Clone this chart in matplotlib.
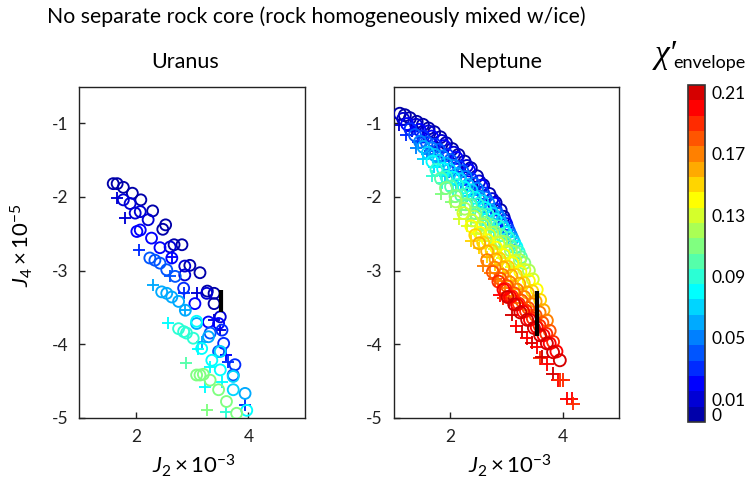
import numpy as np
import matplotlib
matplotlib.use('Agg')
import matplotlib.pyplot as plt
from matplotlib.colors import ListedColormap, BoundaryNorm
from matplotlib.cm import ScalarMappable

plt.rcParams['font.family'] = ['Lato', 'DejaVu Sans']
plt.rcParams['mathtext.fontset'] = 'custom'
plt.rcParams['mathtext.rm'] = 'Lato'
plt.rcParams['mathtext.it'] = 'Lato:italic'
plt.rcParams['axes.unicode_minus'] = False

# ---------------- data ----------------
title = "No separate rock core (rock homogeneously mixed w/ice)"
panel_names = ["Uranus", "Neptune"]
x_ticks = [2, 4]
y_ticks = [-5, -4, -3, -2, -1]
cbar_ticks = [0, 0.01, 0.05, 0.09, 0.13, 0.17, 0.21]
cbar_ticklabels = ["0", "0.01", "0.05", "0.09", "0.13", "0.17", "0.21"]

# observed values (black bars)
ura_obs_j2 = 3.52
ura_obs_j4 = [-3.27, -3.57]
nep_obs_j2 = 3.54
nep_obs_j4 = [-3.28, -3.89]

# Uranus circles, grouped by chi'
ura_circ_chi = [0.00, 0.01, 0.02, 0.03, 0.04, 0.06, 0.07, 0.08, 0.09, 0.11]
ura_circ_j2 = [
    [1.60, 1.67, 1.78, 1.94, 2.09, 2.30, 2.53, 2.48, 2.68, 2.82, 2.96, 3.14, 3.27, 3.39, 3.39],
    [1.78, 1.90, 1.99, 2.08, 2.22, 2.61, 2.87, 2.87, 3.26, 3.50],
    [2.02, 2.08, 2.28, 2.43, 2.64, 3.05, 3.29, 3.47],
    [2.85, 3.53, 3.56, 3.76],
    [2.25, 2.34, 2.43, 2.55, 2.70, 3.32, 3.47, 3.73],
    [2.46, 2.55, 2.64, 2.76, 2.88, 3.08, 3.29, 3.94],
    [3.50, 3.73, 3.73],
    [3.08, 3.17, 3.35, 3.50, 3.97],
    [2.76, 2.85, 2.90, 3.02],
    [3.08, 3.14, 3.20, 3.32, 3.47, 3.61, 3.79],
]
ura_circ_j4 = [
    [-1.82, -1.82, -1.87, -1.95, -2.04, -2.19, -2.38, -2.44, -2.65, -2.65, -2.93, -3.03, -3.28, -3.31, -3.45],
    [-2.04, -2.09, -2.22, -2.20, -2.31, -2.68, -2.94, -3.06, -3.31, -3.63],
    [-2.47, -2.45, -2.56, -2.69, -2.83, -3.45, -3.70, -3.72],
    [-3.24, -3.81, -3.99, -4.28],
    [-2.83, -2.86, -2.90, -2.99, -3.08, -3.85, -4.10, -4.42],
    [-3.29, -3.31, -3.36, -3.42, -3.54, -3.72, -3.90, -4.67],
    [-4.10, -4.44, -4.62],
    [-3.69, -4.06, -4.22, -4.35, -4.90],
    [-3.79, -3.83, -3.85, -3.92],
    [-4.42, -4.42, -4.41, -4.49, -4.62, -4.78, -4.94],
]

# Uranus plus markers, grouped by chi'
ura_plus_chi = [0.01, 0.02, 0.03, 0.04, 0.06, 0.08, 0.09, 0.10, 0.11]
ura_plus_j2 = [
    [1.66, 1.81, 3.08, 3.38, 3.50],
    [2.64, 3.61],
    [2.05, 2.85, 3.64, 3.94],
    [2.61],
    [2.31, 2.87, 3.17],
    [2.58, 3.11, 3.32, 3.23, 3.53],
    [3.60],
    [2.90],
    [3.26],
]
ura_plus_j4 = [
    [-2.02, -2.29, -3.31, -3.67, -3.81],
    [-2.81, -4.15],
    [-2.72, -3.31, -4.24, -4.83],
    [-3.08],
    [-3.20, -3.54, -3.97],
    [-3.72, -4.06, -4.31, -4.58, -4.51],
    [-4.92],
    [-4.26],
    [-4.90],
]

# Neptune circles, one row per chi'
nep_circ_chi = [0.00, 0.01, 0.02, 0.03, 0.04, 0.05, 0.06, 0.07, 0.08, 0.09, 0.10,
                0.11, 0.12, 0.13, 0.14, 0.15, 0.16, 0.17, 0.18, 0.19, 0.20, 0.21]
nep_circ_j2 = [
    [1.11, 1.20, 1.29, 1.41, 1.52, 1.62, 1.72, 1.83, 1.93, 2.04, 2.15, 2.26, 2.37, 2.48, 2.59, 2.70, 2.81, 2.90, 2.95],
    [1.17, 1.40, 1.62, 1.85, 2.07, 2.30, 2.52, 2.75, 2.97],
    [1.24, 1.46, 1.68, 1.90, 2.12, 2.34, 2.56, 2.78, 3.00],
    [1.30, 1.52, 1.73, 1.95, 2.16, 2.38, 2.59, 2.81, 3.02],
    [1.38, 1.59, 1.80, 2.01, 2.22, 2.42, 2.63, 2.84, 3.05],
    [1.47, 1.67, 1.87, 2.07, 2.28, 2.48, 2.68, 2.88, 3.08],
    [1.53, 1.73, 1.93, 2.12, 2.32, 2.52, 2.72, 2.91, 3.11],
    [1.61, 1.80, 1.99, 2.18, 2.38, 2.57, 2.76, 2.95, 3.14],
    [1.69, 1.88, 2.06, 2.25, 2.44, 2.62, 2.81, 2.99, 3.18],
    [1.76, 1.94, 2.13, 2.31, 2.49, 2.67, 2.86, 3.04, 3.22],
    [1.84, 2.02, 2.20, 2.37, 2.55, 2.73, 2.91, 3.08, 3.26],
    [1.93, 2.10, 2.28, 2.45, 2.63, 2.80, 2.97, 3.15, 3.32],
    [2.10, 2.26, 2.43, 2.59, 2.75, 2.91, 3.08, 3.24, 3.40],
    [2.24, 2.39, 2.55, 2.70, 2.86, 3.01, 3.16, 3.32, 3.47],
    [2.38, 2.53, 2.67, 2.82, 2.96, 3.11, 3.25, 3.40, 3.54],
    [2.45, 2.59, 2.74, 2.88, 3.03, 3.17, 3.31, 3.46, 3.60],
    [2.52, 2.66, 2.81, 2.95, 3.09, 3.23, 3.38, 3.52, 3.66],
    [2.66, 2.79, 2.93, 3.06, 3.19, 3.32, 3.46, 3.59, 3.72],
    [2.76, 2.89, 3.01, 3.14, 3.27, 3.39, 3.52, 3.64, 3.77],
    [2.86, 2.98, 3.10, 3.22, 3.35, 3.47, 3.59, 3.71, 3.83],
    [2.95, 3.07, 3.19, 3.30, 3.42, 3.54, 3.66, 3.77, 3.89],
    [3.02, 3.14, 3.25, 3.37, 3.49, 3.60, 3.72, 3.83, 3.95],
]
nep_circ_j4 = [
    [-0.87, -0.89, -0.93, -0.98, -1.02, -1.07, -1.12, -1.19, -1.27, -1.35, -1.43, -1.52, -1.61, -1.72, -1.84, -1.96, -2.08, -2.18, -2.27],
    [-0.94, -1.02, -1.11, -1.24, -1.40, -1.58, -1.79, -2.03, -2.32],
    [-1.01, -1.09, -1.18, -1.31, -1.47, -1.64, -1.85, -2.09, -2.37],
    [-1.08, -1.18, -1.29, -1.43, -1.59, -1.76, -1.95, -2.17, -2.42],
    [-1.16, -1.26, -1.36, -1.50, -1.65, -1.82, -2.01, -2.23, -2.47],
    [-1.25, -1.34, -1.45, -1.58, -1.73, -1.89, -2.08, -2.28, -2.52],
    [-1.32, -1.43, -1.55, -1.69, -1.84, -2.00, -2.18, -2.36, -2.57],
    [-1.40, -1.51, -1.63, -1.76, -1.91, -2.06, -2.23, -2.42, -2.62],
    [-1.52, -1.62, -1.74, -1.87, -2.01, -2.15, -2.31, -2.49, -2.68],
    [-1.63, -1.73, -1.84, -1.96, -2.10, -2.24, -2.40, -2.56, -2.75],
    [-1.75, -1.86, -1.98, -2.11, -2.24, -2.38, -2.52, -2.67, -2.82],
    [-1.88, -1.99, -2.10, -2.22, -2.35, -2.48, -2.61, -2.75, -2.90],
    [-2.06, -2.16, -2.27, -2.38, -2.49, -2.61, -2.73, -2.86, -3.00],
    [-2.22, -2.32, -2.42, -2.52, -2.63, -2.75, -2.87, -2.99, -3.12],
    [-2.40, -2.49, -2.59, -2.69, -2.79, -2.90, -3.02, -3.14, -3.26],
    [-2.52, -2.62, -2.73, -2.84, -2.95, -3.06, -3.17, -3.28, -3.40],
    [-2.63, -2.74, -2.85, -2.96, -3.07, -3.18, -3.30, -3.42, -3.54],
    [-2.86, -2.96, -3.06, -3.16, -3.26, -3.36, -3.46, -3.57, -3.68],
    [-3.02, -3.11, -3.21, -3.31, -3.41, -3.51, -3.61, -3.71, -3.82],
    [-3.15, -3.25, -3.35, -3.45, -3.55, -3.65, -3.75, -3.86, -3.97],
    [-3.26, -3.36, -3.46, -3.56, -3.67, -3.77, -3.88, -3.99, -4.10],
    [-3.36, -3.46, -3.57, -3.67, -3.78, -3.88, -3.99, -4.11, -4.22],
]

# Neptune plus markers, rows per chi'
nep_plus_chi = [0.01, 0.03, 0.05, 0.07, 0.09, 0.11, 0.13, 0.15, 0.17]
nep_plus_j2 = [
    [1.09, 1.32, 1.54, 1.77, 1.99, 2.22, 2.44],
    [1.22, 1.44, 1.65, 1.87, 2.08, 2.30, 2.51],
    [1.39, 1.59, 1.79, 1.99, 2.20, 2.40, 2.60],
    [1.53, 1.72, 1.91, 2.10, 2.30, 2.49, 2.68],
    [1.68, 1.86, 2.05, 2.23, 2.41, 2.59, 2.78],
    [1.85, 2.02, 2.20, 2.37, 2.55, 2.72, 2.89],
    [2.16, 2.31, 2.47, 2.62, 2.78, 2.93, 3.08],
    [2.37, 2.51, 2.66, 2.80, 2.95, 3.09, 3.23],
    [2.58, 2.71, 2.85, 2.98, 3.11, 3.24, 3.38],
]
nep_plus_j4 = [
    [-1.02, -1.10, -1.19, -1.32, -1.48, -1.66, -1.87],
    [-1.16, -1.26, -1.37, -1.51, -1.67, -1.84, -2.03],
    [-1.33, -1.42, -1.53, -1.66, -1.81, -1.97, -2.16],
    [-1.48, -1.59, -1.71, -1.84, -1.99, -2.14, -2.31],
    [-1.71, -1.81, -1.92, -2.04, -2.18, -2.32, -2.48],
    [-1.96, -2.07, -2.18, -2.30, -2.43, -2.56, -2.69],
    [-2.30, -2.40, -2.50, -2.60, -2.71, -2.83, -2.95],
    [-2.60, -2.70, -2.81, -2.92, -3.03, -3.14, -3.25],
    [-2.94, -3.04, -3.14, -3.24, -3.34, -3.44, -3.54],
]

# Neptune red plus markers (lower tail), individual chi'
nep_red_plus_j2 = [2.80, 2.89, 2.95, 3.04, 3.10, 3.18, 3.27, 3.36, 3.45, 3.54,
                   3.60, 3.63, 3.72, 3.83, 3.92, 3.95, 4.01, 4.07, 4.16, 4.19]
nep_red_plus_j4 = [-3.12, -3.33, -3.38, -3.42, -3.60, -3.76, -3.83, -3.92, -3.98, -4.04,
                   -4.19, -4.17, -4.27, -4.40, -4.49, -4.49, -4.49, -4.74, -4.74, -4.81]
nep_red_plus_chi = [0.18, 0.20, 0.19, 0.21, 0.21, 0.20, 0.21, 0.20, 0.21, 0.20,
                    0.19, 0.21, 0.20, 0.21, 0.20, 0.19, 0.19, 0.20, 0.20, 0.19]


# ---------------- colour map (MATLAB-style jet with 22 levels) ----------------
def matlab_jet(m):
    n = int(np.ceil(m / 4))
    u = np.concatenate([np.arange(1, n + 1) / n, np.ones(n - 1), np.arange(n, 0, -1) / n])
    g = int(np.ceil(n / 2)) - (1 if m % 4 == 1 else 0) + np.arange(1, len(u) + 1)
    r = g + n
    b = g - n
    g = g[g <= m]
    r = r[r <= m]
    b = b[b >= 1]
    J = np.zeros((m, 3))
    J[r - 1, 0] = u[:len(r)]
    J[g - 1, 1] = u[:len(g)]
    J[b - 1, 2] = u[len(u) - len(b):]
    return J


NLEV = 22
cmap = ListedColormap(matlab_jet(NLEV))
norm = BoundaryNorm(np.linspace(-0.005, 0.215, NLEV + 1), NLEV)

# ---------------- figure ----------------
W, H = 751, 491
fig = plt.figure(figsize=(W / 100, H / 100), dpi=100)


def box(l, t, r, b):
    return [l / W, 1 - b / H, (r - l) / W, (b - t) / H]


ax_u = fig.add_axes(box(79.4, 86.5, 304.8, 417.7))
ax_n = fig.add_axes(box(393.6, 86.5, 619.0, 417.7))
cax = fig.add_axes(box(688, 85, 705, 422))

LW = 1.35


def draw_groups(ax, chis, xs, ys, marker, s):
    for c, x, y in zip(chis, xs, ys):
        col = cmap(norm(c))
        if marker == 'o':
            ax.scatter(x, y, s=s, marker='o', facecolors='none', edgecolors=[col],
                       linewidths=LW, zorder=3)
        else:
            ax.scatter(x, y, s=s, marker='+', c=[col], linewidths=LW, zorder=2)


# Uranus
draw_groups(ax_u, ura_plus_chi, ura_plus_j2, ura_plus_j4, '+', 80)
draw_groups(ax_u, ura_circ_chi, ura_circ_j2, ura_circ_j4, 'o', 62)
ax_u.plot([ura_obs_j2, ura_obs_j2], ura_obs_j4, color='k', lw=3, solid_capstyle='butt', zorder=5)

# Neptune
draw_groups(ax_n, nep_plus_chi, nep_plus_j2, nep_plus_j4, '+', 85)
ax_n.scatter(nep_red_plus_j2, nep_red_plus_j4, s=95, marker='+',
             c=[cmap(norm(c)) for c in nep_red_plus_chi], linewidths=LW, zorder=2)
draw_groups(ax_n, nep_circ_chi, nep_circ_j2, nep_circ_j4, 'o', 74)
ax_n.plot([nep_obs_j2, nep_obs_j2], nep_obs_j4, color='k', lw=3, solid_capstyle='butt', zorder=5)

for ax in (ax_u, ax_n):
    ax.set_xlim(1, 5)
    ax.set_ylim(-5, -0.5)
    ax.set_xticks(x_ticks)
    ax.set_yticks(y_ticks)
    ax.set_xticklabels([str(v) for v in x_ticks])
    ax.set_yticklabels([str(v) for v in y_ticks])
    ax.tick_params(direction='in', length=4, width=1, labelsize=12.5, pad=8, colors='#222222')
    for sp in ax.spines.values():
        sp.set_linewidth(1.0)
        sp.set_color('#222222')

# colour bar
sm = ScalarMappable(norm=norm, cmap=cmap)
cb = fig.colorbar(sm, cax=cax, ticks=cbar_ticks)
cb.ax.minorticks_off()
cb.ax.set_yticks(cbar_ticks)
cb.ax.set_yticklabels(cbar_ticklabels)
cb.ax.tick_params(which='both', length=0, labelsize=12.5, pad=5)
cb.outline.set_linewidth(1.2)
cb.outline.set_edgecolor('#333333')

# texts
fig.text(316 / W, 1 - 17 / H, title, ha='center', va='center', fontsize=15.3)
fig.text(185 / W, 1 - 62 / H, panel_names[0], ha='center', va='center', fontsize=15.5)
fig.text(500 / W, 1 - 62 / H, panel_names[1], ha='center', va='center', fontsize=15.5)
fig.text(194 / W, 1 - 466 / H, r'$J_2\times10^{-3}$', ha='center', va='center', fontsize=16)
fig.text(510 / W, 1 - 466 / H, r'$J_2\times10^{-3}$', ha='center', va='center', fontsize=16)
fig.text(22 / W, 1 - 245 / H, r'$J_4\times10^{-5}$', ha='center', va='center', fontsize=16, rotation=90)
fig.text(666 / W, 1 - 55 / H, "\u03c7\u2032", ha='center', va='center', fontsize=24,
         family=['Liberation Serif', 'DejaVu Serif'], style='italic')
fig.text(673 / W, 1 - 63 / H, "envelope", ha='left', va='center', fontsize=13)

fig.savefig('out.png', dpi=100)
